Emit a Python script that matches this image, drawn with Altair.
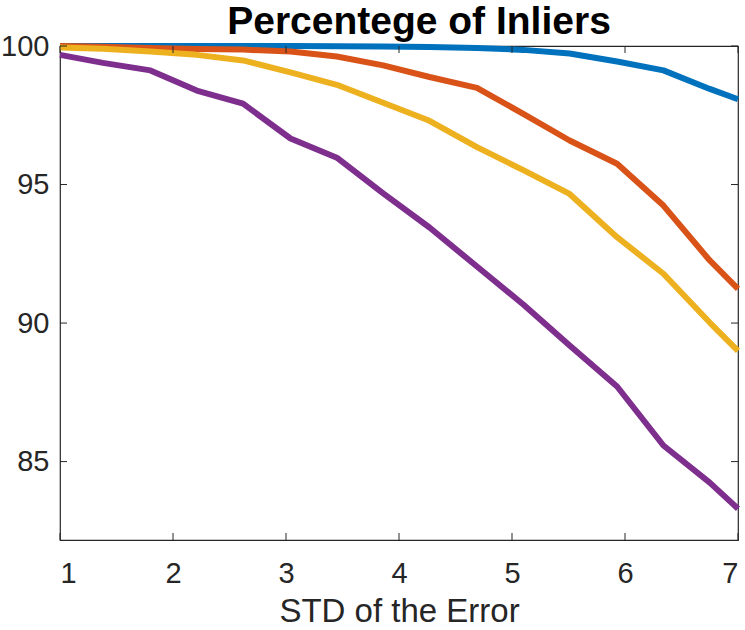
import altair as alt
import pandas as pd

# Standard deviation of the injected error (x) and the percentage of inliers kept
std_error = [1.0, 1.38, 1.80, 2.21, 2.62, 3.04, 3.45, 3.86, 4.27, 4.69, 5.10, 5.51, 5.93, 6.34, 6.75, 7.0]

inliers_blue = [100.0, 100.0, 100.0, 100.0, 100.0, 100.0, 99.99, 99.98, 99.96, 99.93,
                99.86, 99.73, 99.44, 99.12, 98.45, 98.08]
inliers_orange = [100.0, 99.97, 99.93, 99.89, 99.87, 99.80, 99.62, 99.30, 98.88, 98.49,
                  97.55, 96.59, 95.75, 94.24, 92.26, 91.23]
inliers_yellow = [99.95, 99.90, 99.80, 99.68, 99.48, 99.05, 98.60, 97.95, 97.30, 96.35,
                  95.52, 94.66, 93.10, 91.78, 90.02, 89.00]
inliers_purple = [99.68, 99.39, 99.12, 98.39, 97.92, 96.66, 95.97, 94.68, 93.45, 92.04,
                  90.67, 89.19, 87.71, 85.58, 84.24, 83.30]

series_values = [inliers_blue, inliers_orange, inliers_yellow, inliers_purple]
series_colors = ["#0072BD", "#D95319", "#EDB120", "#7E2F8E"]

x_ticks = [1, 2, 3, 4, 5, 6, 7]
y_ticks = [85, 90, 95, 100]

X_DOMAIN = [1, 7]
Y_DOMAIN = [82.17, 100.0]

W, H = 678, 494
TICK = 7
AXIS_COLOR = "#262626"
FONT = "Liberation Sans"

x_scale = alt.Scale(domain=X_DOMAIN, nice=False, zero=False)
y_scale = alt.Scale(domain=Y_DOMAIN, nice=False, zero=False)

x_axis = alt.Axis(values=x_ticks, format="d", domain=False, ticks=False, grid=False,
                  labelFontSize=29, labelPadding=19, labelColor=AXIS_COLOR, labelFont=FONT,
                  title="STD of the Error", titleFontSize=33, titleFont=FONT,
                  titleFontWeight="normal", titleColor=AXIS_COLOR, titlePadding=7)
y_axis = alt.Axis(values=y_ticks, format="d", domain=False, ticks=False, grid=False,
                  labelFontSize=29, labelPadding=11, labelColor=AXIS_COLOR, labelFont=FONT,
                  title=None)

X = lambda field: alt.X(field, scale=x_scale, axis=x_axis)
Y = lambda field: alt.Y(field, scale=y_scale, axis=y_axis)

# the four curves, drawn in order so later series sit on top
layers = []
for vals, col in zip(series_values, series_colors):
    df = pd.DataFrame({"std": std_error, "pct": vals})
    layers.append(
        alt.Chart(df).mark_line(color=col, strokeWidth=6, strokeJoin="round")
        .encode(x=X("std:Q"), y=Y("pct:Q"))
    )

# inward tick marks on all four sides of the box
ydf = pd.DataFrame({"v": y_ticks})
xdf = pd.DataFrame({"t": x_ticks})
tick_style = dict(color=AXIS_COLOR, strokeWidth=1)
left_ticks = alt.Chart(ydf).mark_rule(**tick_style).encode(
    y=Y("v:Q"), x=alt.value(0), x2=alt.value(TICK))
right_ticks = alt.Chart(ydf).mark_rule(**tick_style).encode(
    y=Y("v:Q"), x=alt.value(W - TICK), x2=alt.value(W))
bottom_ticks = alt.Chart(xdf).mark_rule(**tick_style).encode(
    x=X("t:Q"), y=alt.value(H - TICK), y2=alt.value(H))
top_ticks = alt.Chart(xdf).mark_rule(**tick_style).encode(
    x=X("t:Q"), y=alt.value(0), y2=alt.value(TICK))

chart = alt.layer(*layers, left_ticks, right_ticks, bottom_ticks, top_ticks).properties(
    width=W, height=H,
    title=alt.TitleParams("Percentege of Inliers", fontSize=39, font=FONT, fontWeight="bold",
                          color="black", anchor="middle", offset=6, dy=16, dx=20),
    autosize=alt.AutoSizeParams(type="none"),
    padding={"left": 60, "top": 46, "right": 7, "bottom": 90},
).configure(background="white").configure_view(stroke=AXIS_COLOR, strokeWidth=1.2)

chart.save("out.html", embed_options={"renderer": "svg", "actions": False})
